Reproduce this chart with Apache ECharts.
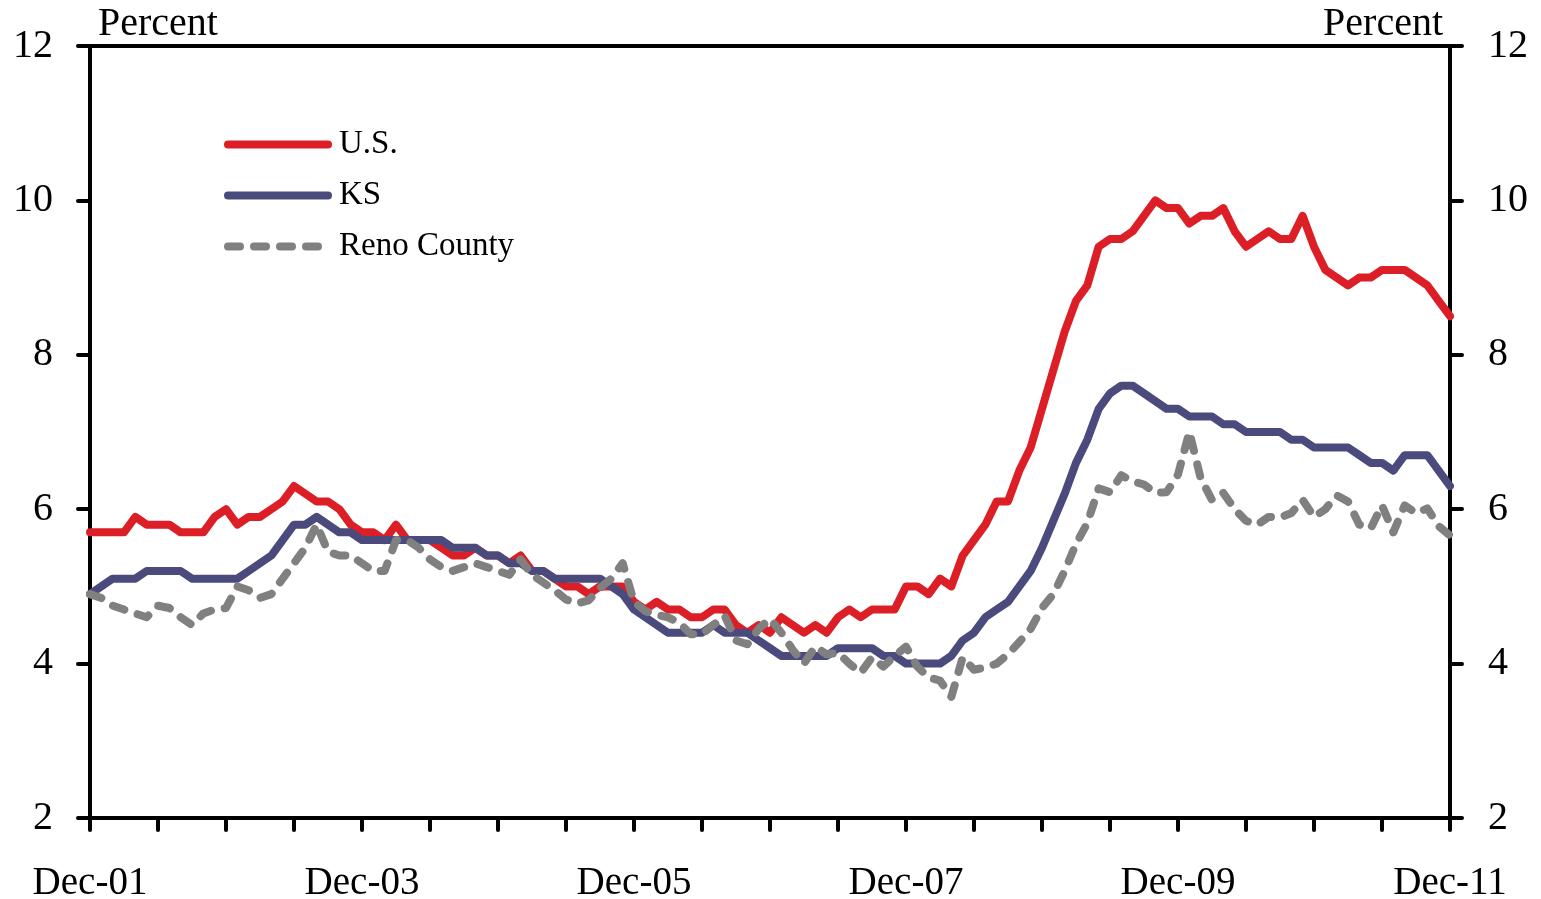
<!DOCTYPE html>
<html>
<head>
<meta charset="utf-8">
<title>Unemployment rate: U.S., KS, Reno County</title>
<script src="https://cdn.jsdelivr.net/npm/echarts@6/dist/echarts.min.js"></script>
<style>
  html, body { margin: 0; padding: 0; background: #fff; }
  #chart { width: 1541px; height: 899px; }
</style>
</head>
<body>
<div id="chart"></div>
<script>
/* ----------  data  ---------- */
// monthly, Dec-01 .. Dec-11
const monthNames = ['Jan', 'Feb', 'Mar', 'Apr', 'May', 'Jun', 'Jul', 'Aug', 'Sep', 'Oct', 'Nov', 'Dec'];
const months = [];
for (let k = 0; k <= 120; k++) {
  const m = (11 + k) % 12;
  const y = 1 + Math.floor((11 + k) / 12);
  months.push(monthNames[m] + '-' + String(y).padStart(2, '0'));
}

const usRate = [
  5.7, 5.7, 5.7, 5.7, 5.9, 5.8, 5.8, 5.8, 5.7, 5.7, 5.7, 5.9, 6.0,
  5.8, 5.9, 5.9, 6.0, 6.1, 6.3, 6.2, 6.1, 6.1, 6.0, 5.8, 5.7,
  5.7, 5.6, 5.8, 5.6, 5.6, 5.6, 5.5, 5.4, 5.4, 5.5, 5.4, 5.4,
  5.3, 5.4, 5.2, 5.2, 5.1, 5.0, 5.0, 4.9, 5.0, 5.0, 5.0, 4.8,
  4.7, 4.8, 4.7, 4.7, 4.6, 4.6, 4.7, 4.7, 4.5, 4.4, 4.5, 4.4,
  4.6, 4.5, 4.4, 4.5, 4.4, 4.6, 4.7, 4.6, 4.7, 4.7, 4.7, 5.0,
  5.0, 4.9, 5.1, 5.0, 5.4, 5.6, 5.8, 6.1, 6.1, 6.5, 6.8, 7.3,
  7.8, 8.3, 8.7, 8.9, 9.4, 9.5, 9.5, 9.6, 9.8, 10.0, 9.9, 9.9,
  9.7, 9.8, 9.8, 9.9, 9.6, 9.4, 9.5, 9.6, 9.5, 9.5, 9.8, 9.4,
  9.1, 9.0, 8.9, 9.0, 9.0, 9.1, 9.1, 9.1, 9.0, 8.9, 8.7, 8.5
];

const ksRate = [
  4.9, 5.0, 5.1, 5.1, 5.1, 5.2, 5.2, 5.2, 5.2, 5.1, 5.1, 5.1, 5.1,
  5.1, 5.2, 5.3, 5.4, 5.6, 5.8, 5.8, 5.9, 5.8, 5.7, 5.7, 5.6,
  5.6, 5.6, 5.6, 5.6, 5.6, 5.6, 5.6, 5.5, 5.5, 5.5, 5.4, 5.4,
  5.3, 5.3, 5.2, 5.2, 5.1, 5.1, 5.1, 5.1, 5.1, 5.0, 4.9, 4.7,
  4.6, 4.5, 4.4, 4.4, 4.4, 4.4, 4.5, 4.4, 4.4, 4.4, 4.3, 4.2,
  4.1, 4.1, 4.1, 4.1, 4.1, 4.2, 4.2, 4.2, 4.2, 4.1, 4.1, 4.0,
  4.0, 4.0, 4.0, 4.1, 4.3, 4.4, 4.6, 4.7, 4.8, 5.0, 5.2, 5.5,
  5.85, 6.2, 6.6, 6.9, 7.3, 7.5, 7.6, 7.6, 7.5, 7.4, 7.3, 7.3,
  7.2, 7.2, 7.2, 7.1, 7.1, 7.0, 7.0, 7.0, 7.0, 6.9, 6.9, 6.8,
  6.8, 6.8, 6.8, 6.7, 6.6, 6.6, 6.5, 6.7, 6.7, 6.7, 6.5, 6.3
];

const renoRate = [
  4.9, 4.85, 4.75, 4.7, 4.65, 4.6, 4.75, 4.72, 4.6, 4.5, 4.65, 4.7, 4.72,
  5.0, 4.95, 4.85, 4.9, 5.1, 5.3, 5.5, 5.8, 5.45, 5.4, 5.4, 5.3,
  5.2, 5.2, 5.6, 5.6, 5.5, 5.35, 5.25, 5.2, 5.25, 5.3, 5.25, 5.2,
  5.15, 5.35, 5.15, 5.05, 4.95, 4.83, 4.78, 4.82, 4.98, 5.1, 5.3, 4.8,
  4.68, 4.63, 4.6, 4.53, 4.38, 4.38, 4.5, 4.62, 4.3, 4.25, 4.45, 4.58,
  4.4, 4.18, 4.0, 4.22, 4.12, 4.14, 4.0, 3.88, 4.08, 3.96, 4.1, 4.22,
  3.96, 3.82, 3.78, 3.57, 4.08, 3.92, 3.95, 4.0, 4.12, 4.28, 4.45, 4.72,
  4.9, 5.2, 5.55, 5.82, 6.27, 6.22, 6.44, 6.36, 6.32, 6.21, 6.22, 6.45,
  7.0, 6.4, 6.12, 6.21, 6.0, 5.85, 5.8, 5.9, 5.89, 5.95, 6.12, 5.9,
  6.0, 6.18, 6.1, 5.8, 5.75, 6.05, 5.7, 6.05, 5.95, 6.01, 5.78, 5.66
];

const seriesNames = ['U.S.', 'KS', 'Reno County'];
const yTicks = { min: 2, max: 12, interval: 2 };

/* ----------  style  ---------- */
const FONT = "'Liberation Serif', 'Times New Roman', serif";
const RED = '#DC1F26';
const NAVY = '#4B4A7C';
const GREY = '#808080';

const chart = echarts.init(document.getElementById('chart'), null, { renderer: 'canvas' });

function yAxis(position) {
  const left = position === 'left';
  return {
    type: 'value',
    position,
    min: yTicks.min,
    max: yTicks.max,
    interval: yTicks.interval,
    name: 'Percent',
    nameLocation: 'end',
    nameGap: 2,
    nameTextStyle: {
      fontFamily: FONT,
      fontSize: 40,
      color: '#000',
      align: left ? 'left' : 'right',
      padding: left ? [0, 0, 0, 8] : [0, 7, 0, 0],
    },
    axisLine: { show: true, lineStyle: { color: '#000', width: 4, cap: 'round' } },
    axisTick: { show: true, inside: false, length: 12, lineStyle: { color: '#000', width: 4, cap: 'round' } },
    axisLabel: { margin: left ? 37 : 38, fontFamily: FONT, fontSize: 40, color: '#000' },
    splitLine: { show: false },
  };
}

function lineSeries(name, data, color, type, z) {
  return {
    name,
    type: 'line',
    data,
    symbol: 'none',
    smooth: false,
    z,
    lineStyle: { color, width: 8, type, cap: 'round', join: 'round' },
    itemStyle: { color },
    emphasis: { disabled: true },
  };
}

chart.setOption({
  animation: false,
  backgroundColor: '#fff',
  grid: {
    left: 90, right: 91, top: 46, bottom: 81,
    show: true, borderColor: '#000', borderWidth: 4,
    outerBoundsMode: 'none',
  },
  legend: {
    orient: 'vertical',
    left: 224,
    top: 128,
    padding: 0,
    itemWidth: 100,
    itemHeight: 2,
    itemGap: 18,
    selectedMode: false,
    itemStyle: { opacity: 0 },
    lineStyle: { width: 8 },
    textStyle: { fontFamily: FONT, fontSize: 33, color: '#000', padding: [0, 0, 0, 6] },
    data: seriesNames,
  },
  xAxis: {
    type: 'category',
    data: months,
    boundaryGap: false,
    axisLine: { show: true, lineStyle: { color: '#000', width: 4 } },
    axisTick: {
      show: true, inside: false, length: 12,
      interval: (i) => i % 6 === 0,
      lineStyle: { color: '#000', width: 4, cap: 'round' },
    },
    axisLabel: {
      interval: (i) => i % 24 === 0,
      margin: 46,
      fontFamily: FONT, fontSize: 39, color: '#000',
      showMaxLabel: true,
    },
    splitLine: { show: false },
  },
  yAxis: [yAxis('left'), yAxis('right')],
  series: [
    lineSeries(seriesNames[0], usRate, RED, 'solid', 2),
    lineSeries(seriesNames[1], ksRate, NAVY, 'solid', 3),
    lineSeries(seriesNames[2], renoRate, GREY, [12, 14], 4),
  ],
});
</script>
</body>
</html>
